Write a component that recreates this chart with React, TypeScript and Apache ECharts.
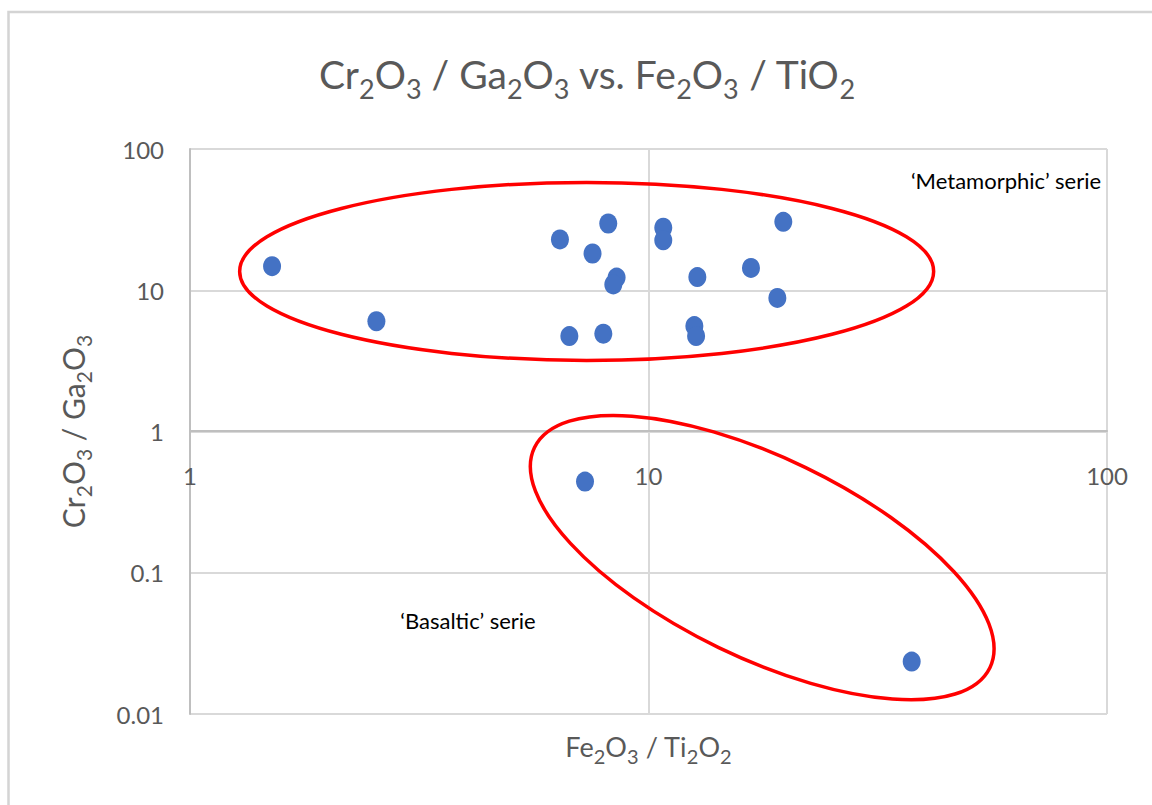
import React, { useEffect, useRef } from "react";
import * as echarts from "echarts";

// ---- data ----
const fe2o3TiO2 = [1.51, 2.55, 6.41, 8.17, 7.55, 8.52, 8.38, 10.77, 10.77, 12.78, 16.73, 19.68, 19.1, 6.72, 7.97, 12.59, 12.7, 7.27, 37.5];
const cr2o3Ga2o3 = [14.8, 6.03, 22.9, 29.7, 18.2, 12.3, 11.0, 27.7, 22.6, 12.4, 14.4, 30.5, 8.82, 4.74, 4.93, 5.58, 4.74, 0.442, 0.0235];
const xTicks = [1, 10, 100];
const yTicks = [0.01, 0.1, 1, 10, 100];
const titleText = "Cr2O3 / Ga2O3 vs. Fe2O3 / TiO2";
const xName = "Fe2O3 / Ti2O2";
const yName = "Cr2O3 / Ga2O3";
const groupNames = ["\u2018Metamorphic\u2019 serie", "\u2018Basaltic\u2019 serie"];
// group outline centres, in data units [Fe2O3/TiO2, Cr2O3/Ga2O3]
const metamorphicCentre = [7.33, 13.6];
const basalticCentre = [17.7, 0.128];

// ---- styles ----
const FONT = "Lato, 'Open Sans', sans-serif";
const GRAY = "#595959";

function chem(s: string): string {
  return s.replace(/([^0-9]+)|([0-9]+)/g, (_m: string, a: string, b: string) => (a ? `{m|${a}}` : `{s|${b}}`));
}

const richTitle = {
  m: { fontSize: 39, fontFamily: FONT, fontWeight: "normal", color: GRAY, lineHeight: 57 },
  s: { fontSize: 27, fontFamily: FONT, fontWeight: "normal", color: GRAY, verticalAlign: "bottom" },
};
const richX = {
  m: { fontSize: 27, fontFamily: FONT, fontWeight: "normal", color: GRAY, lineHeight: 40 },
  s: { fontSize: 20, fontFamily: FONT, fontWeight: "normal", color: GRAY, verticalAlign: "bottom" },
};
const richY = {
  m: { fontSize: 30, fontFamily: FONT, fontWeight: "normal", color: GRAY, lineHeight: 42 },
  s: { fontSize: 21, fontFamily: FONT, fontWeight: "normal", color: GRAY, verticalAlign: "bottom" },
};

export default function App() {
  const ref = useRef<HTMLDivElement>(null);
  useEffect(() => {
    const chart = echarts.init(ref.current!, null, { renderer: "svg" });
    const option: any = {
      animation: false,
      backgroundColor: "#ffffff",
      title: {
        text: chem(titleText),
        left: 587,
        textAlign: "center",
        top: 45,
        padding: 0,
        textStyle: { fontWeight: "normal", rich: richTitle },
      },
      grid: { left: 190, top: 149, right: 45, bottom: 91 },
      xAxis: {
        type: "log",
        logBase: 10,
        min: xTicks[0],
        max: xTicks[xTicks.length - 1],
        offset: -283,
        axisLine: { show: true, onZero: false, lineStyle: { color: "#bfbfbf", width: 2 } },
        axisTick: { show: false },
        axisLabel: {
          margin: 32,
          color: GRAY,
          fontSize: 24,
          fontFamily: FONT,
          formatter: (v: number) => String(v),
        },
        splitLine: { show: true, lineStyle: { color: "#d9d9d9", width: 2 } },
        name: chem(xName),
        nameLocation: "middle",
        nameGap: 295,
        nameTextStyle: { rich: richX },
      },
      yAxis: {
        type: "log",
        logBase: 10,
        min: yTicks[0],
        max: yTicks[yTicks.length - 1],
        axisLine: { show: true, onZero: false, lineStyle: { color: "#bfbfbf", width: 2 } },
        axisTick: { show: false },
        axisLabel: {
          margin: 26,
          color: GRAY,
          fontSize: 24,
          fontFamily: FONT,
          formatter: (v: number) => String(v),
        },
        splitLine: { show: true, lineStyle: { color: "#d9d9d9", width: 2 } },
        name: chem(yName),
        nameLocation: "middle",
        nameRotate: 90,
        nameGap: 96,
        nameTextStyle: { rich: richY },
      },
      series: [
        {
          type: "scatter",
          data: fe2o3TiO2.map((x, i) => [x, cr2o3Ga2o3[i]]),
          symbol: "circle",
          symbolSize: [18, 20],
          itemStyle: { color: "#4472C4", opacity: 1 },
          z: 3,
        },
      ],
    };
    chart.setOption(option);

    const pm = chart.convertToPixel({ gridIndex: 0 }, metamorphicCentre) as number[];
    const pb = chart.convertToPixel({ gridIndex: 0 }, basalticCentre) as number[];
    const red = { fill: "none", stroke: "#ff0000", lineWidth: 3.5 };
    const txt = (text: string, x: number, y: number) => ({
      type: "text",
      x,
      y,
      silent: true,
      style: {
        text,
        fill: "#000000",
        font: `22px ${FONT}`,
        fontSize: 22,
        fontFamily: FONT,
        align: "center",
        verticalAlign: "middle",
        textAlign: "center",
        textVerticalAlign: "middle",
      },
    });
    chart.setOption({
      graphic: [
        {
          type: "rect",
          silent: true,
          shape: { x: 8.5, y: 12, width: 1400, height: 1000 },
          style: { fill: "none", stroke: "#d4d4d4", lineWidth: 2.5 },
        },
        {
          type: "ellipse",
          silent: true,
          x: pm[0],
          y: pm[1],
          shape: { cx: 0, cy: 0, rx: 347, ry: 89 },
          style: red,
          z: 10,
        },
        {
          type: "ellipse",
          silent: true,
          x: pb[0],
          y: pb[1],
          rotation: (-25.8 * Math.PI) / 180,
          shape: { cx: 0, cy: 0, rx: 253, ry: 100 },
          style: red,
          z: 10,
        },
        txt(groupNames[0], 1006, 180),
        txt(groupNames[1], 468, 620),
      ],
    });
    return () => chart.dispose();
  }, []);
  return (
    <div
      ref={ref}
      style={{ position: "fixed", left: 0, top: 0, width: 1152, height: 805, background: "#fff" }}
    />
  );
}
